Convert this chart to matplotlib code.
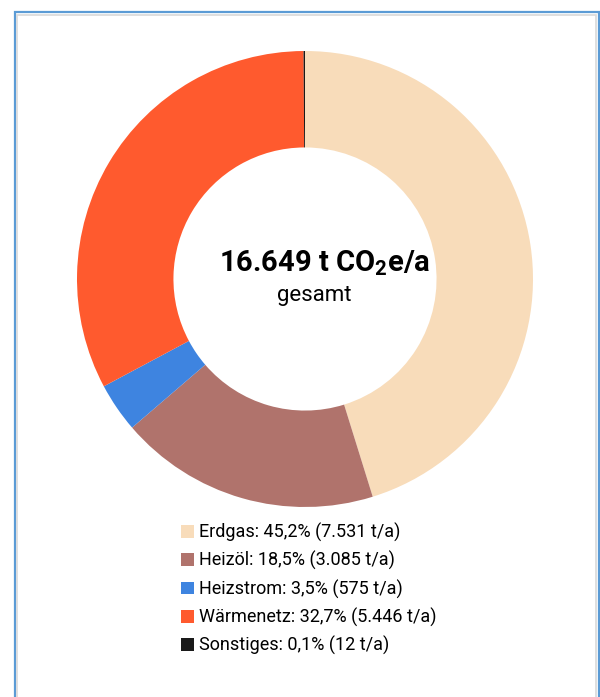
import matplotlib
matplotlib.use('Agg')
import matplotlib.pyplot as plt
from matplotlib.patches import Rectangle

# ----- data ----------------------------------------------------------
categories = ['Erdgas', 'Heizöl', 'Heizstrom', 'Wärmenetz', 'Sonstiges']
shares = [45.2, 18.5, 3.5, 32.7, 0.1]          # percent
tonnes = ['7.531', '3.085', '575', '5.446', '12']  # t/a
total = '16.649'
colors = ['#F8DCBA', '#B0736C', '#3E84E0', '#FF5A2E', '#1A1A1A']

labels = ['{}: {}% ({} t/a)'.format(c, str(s).replace('.', ','), t)
          for c, s, t in zip(categories, shares, tonnes)]

plt.rcParams['font.family'] = ['Roboto', 'DejaVu Sans']
plt.rcParams['mathtext.fontset'] = 'custom'
plt.rcParams['mathtext.rm'] = 'Roboto'
plt.rcParams['mathtext.bf'] = 'Roboto:bold'

W, H = 600, 697
fig = plt.figure(figsize=(W / 100, H / 100), dpi=100, facecolor='white')
ax = fig.add_axes([0, 0, 1, 1])

# donut, clockwise from 12 o'clock
cx, cy, R = 305, H - 279, 228
wedges, _ = ax.pie(shares, colors=colors, startangle=90, counterclock=False,
                   center=(cx, cy), radius=R,
                   wedgeprops=dict(width=R * 0.423, linewidth=0))
ax.set_xlim(0, W)
ax.set_ylim(0, H)
ax.set_aspect('equal')
ax.axis('off')

# centre text
ax.text(325, H - 263, total + r' t CO$_\mathbf{2}$e/a', ha='center', va='center',
        fontsize=21, fontweight='bold', color='black')
ax.text(314, H - 295, 'gesamt', ha='center', va='center',
        fontsize=16, color='black')

# legend
leg = ax.legend(wedges, labels, loc='upper left',
                bbox_to_anchor=(181 / W, 1 - 523 / H), bbox_transform=fig.transFigure,
                frameon=False, fontsize=13, handlelength=0.72, handleheight=0.72,
                handletextpad=0.25, labelspacing=0.5, borderpad=0, borderaxespad=0)

# chart border
fig.patches.append(Rectangle((14.5 / W, -0.05), (598.5 - 14.5) / W, 1.05 - 11.5 / H,
                             transform=fig.transFigure, fill=False,
                             edgecolor='#5B9BD5', linewidth=1.6))
fig.patches.append(Rectangle((17 / W, -0.05), (596 - 17) / W, 1.05 - 14.5 / H,
                             transform=fig.transFigure, fill=False,
                             edgecolor='#D9D9D9', linewidth=1.2))

fig.savefig('out.png', dpi=100, facecolor='white')
